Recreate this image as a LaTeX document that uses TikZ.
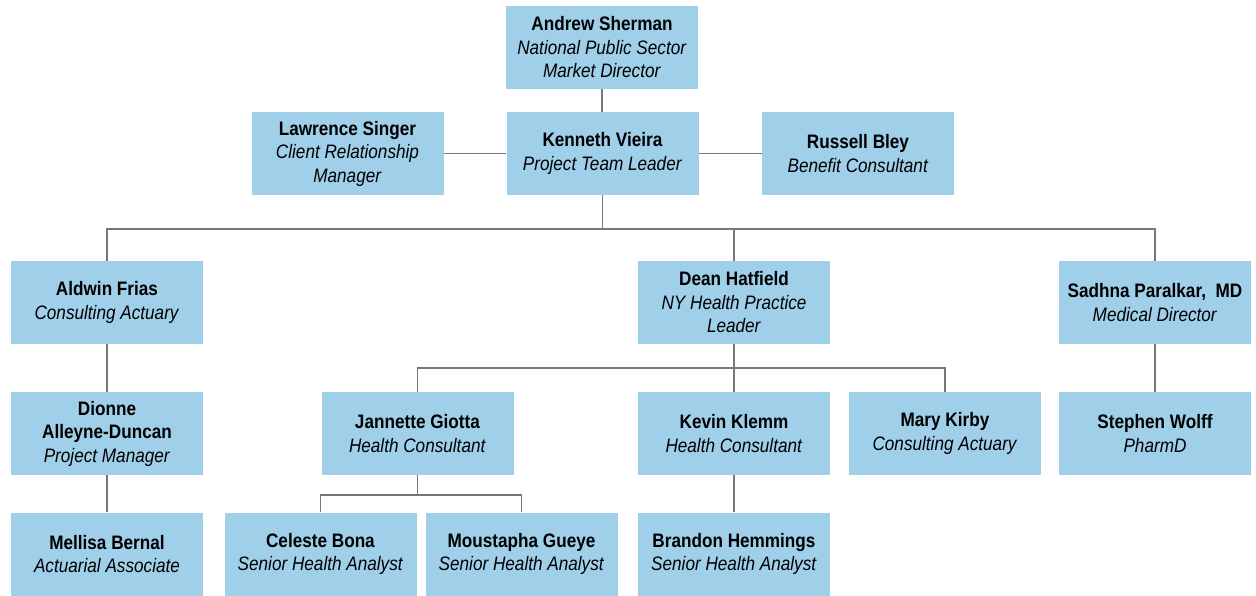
\documentclass[tikz,border=0pt]{standalone}
\usepackage{fontspec}
\setmainfont{Liberation Sans}[FakeStretch=0.88]
\usepackage{tikz}
\definecolor{boxblue}{RGB}{160,207,234}
\definecolor{linkgray}{RGB}{120,120,120}
\tikzset{
  person/.style={fill=boxblue, minimum width=192pt, minimum height=83pt, inner sep=0pt,
    align=center, font=\fontsize{19.5pt}{23.5pt}\selectfont},
  link/.style={draw=linkgray, line width=1.5pt},
}
\newcommand{\who}[2]{\textbf{#1}\\\textit{#2}}

\begin{document}
\begin{tikzpicture}[x=1pt,y=-1pt]
            \useasboundingbox (0,0) rectangle (1256,595);
            % top
            \node[person] (andrew) at (602,47.5) {\textbf{Andrew Sherman}\\\textit{National Public Sector}\\\textit{Market Director}};
            \node[person] (kenneth) at (602.5,153.5) {\who{Kenneth Vieira}{Project Team Leader}};
            \node[person] (lawrence) at (347.5,153.5) {\textbf{Lawrence Singer}\\\textit{Client Relationship}\\\textit{Manager}};
            \node[person] (russell) at (858,153.5) {\who{Russell Bley}{Benefit Consultant}};
            % second row
            \node[person] (aldwin) at (107,302.5) {\who{Aldwin Frias}{Consulting Actuary}};
            \node[person] (dean) at (734,302.5) {\textbf{Dean Hatfield}\\\textit{NY Health Practice}\\\textit{Leader}};
            \node[person] (sadhna) at (1155,302.5) {\who{Sadhna Paralkar,\ \ MD}{Medical Director}};
            % third row
            \node[person] (dionne) at (107,433.5) {\textbf{Dionne}\\\textbf{Alleyne-Duncan}\\\textit{Project Manager}};
            \node[person] (jannette) at (417.5,433.5) {\who{Jannette Giotta}{Health Consultant}};
            \node[person] (kevin) at (734,433.5) {\who{Kevin Klemm}{Health Consultant}};
            \node[person] (mary) at (945,433.5) {\who{Mary Kirby}{Consulting Actuary}};
            \node[person] (stephen) at (1155,433.5) {\who{Stephen Wolff}{PharmD}};
            % bottom row
            \node[person] (mellisa) at (107,554) {\who{Mellisa Bernal}{Actuarial Associate}};
            \node[person] (celeste) at (320.5,554) {\who{Celeste Bona}{Senior Health Analyst}};
            \node[person] (moustapha) at (521.5,554) {\who{Moustapha Gueye}{Senior Health Analyst}};
            \node[person] (brandon) at (734,554) {\who{Brandon Hemmings}{Senior Health Analyst}};
            % links
            \coordinate (busa) at (602.5,229);
            \coordinate (busb) at (734,368);
            \coordinate (busc) at (417.5,495);
            \draw[link] (andrew.south) -- (andrew.south |- kenneth.north);
            \draw[link] (lawrence.east) -- (kenneth.west);
            \draw[link] (kenneth.east) -- (russell.west);
            \draw[link] (kenneth.south) -- (busa);
            \draw[link] (aldwin.north) |- (busa) -| (sadhna.north);
            \draw[link] (busa -| dean.north) -- (dean.north);
            \draw[link] (dean.south) -- (busb);
            \draw[link] (jannette.north) |- (busb) -| (mary.north);
            \draw[link] (busb) -- (kevin.north);
            \draw[link] (jannette.south) -- (busc);
            \draw[link] (celeste.north) |- (busc) -| (moustapha.north);
            \draw[link] (aldwin.south) -- (dionne.north);
            \draw[link] (dionne.south) -- (mellisa.north);
            \draw[link] (kevin.south) -- (brandon.north);
            \draw[link] (sadhna.south) -- (stephen.north);
        \end{tikzpicture}
\end{document}
